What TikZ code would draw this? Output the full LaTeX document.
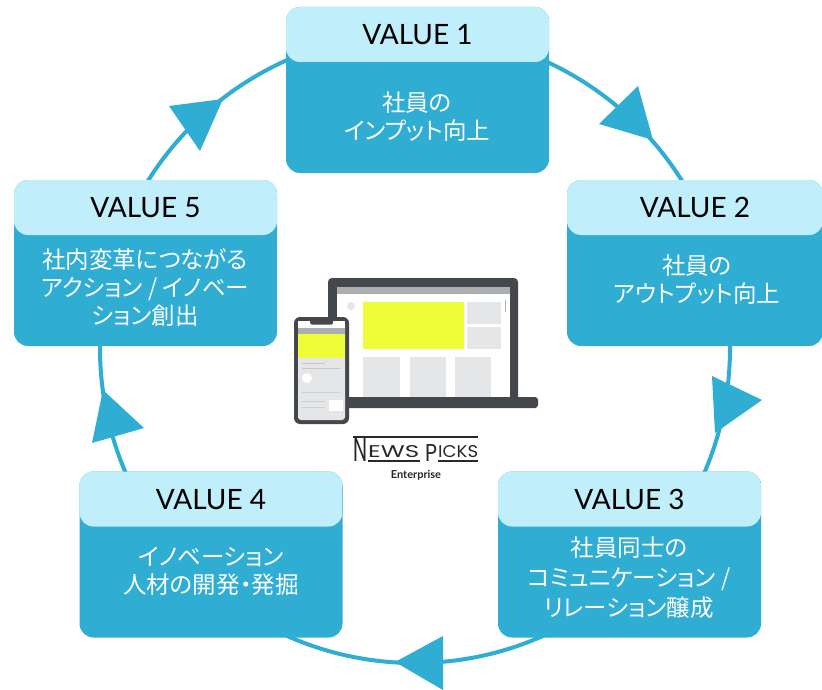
\documentclass[tikz,border=0pt]{standalone}
\usepackage{fontspec}
\setmainfont{Lato}
\newfontfamily\jpfont[RawFeature=+palt]{Noto Sans CJK JP}
\newfontfamily\logofont{Poppins}

\definecolor{vbody}{RGB}{47,173,211}
\definecolor{vhead}{RGB}{193,238,251}
\definecolor{devdark}{RGB}{68,71,75}
\definecolor{devgray}{RGB}{229,230,231}
\definecolor{devbar}{RGB}{172,175,178}
\definecolor{devyellow}{RGB}{238,253,56}
\definecolor{logoink}{RGB}{40,40,40}

\tikzset{
  valuebox/.style={fill=vbody, rounded corners=14pt, minimum width=263pt,
    minimum height=166pt, inner sep=0pt,
    path picture={\fill[vhead] ([yshift=2pt]path picture bounding box.north west)
      rectangle ([yshift=-55pt]path picture bounding box.north east);}},
  valuetitle/.style={font=\fontsize{28}{32}\selectfont, text=black, inner sep=0pt},
  valuetext/.style={font=\jpfont\fontsize{23.5}{28}\selectfont, text=white,
    align=center, inner sep=0pt},
  ring/.style={draw=vbody, line width=4pt},
  ringarrow/.style={fill=vbody},
  logoline/.style={draw=logoink, line width=1.8pt},
}

\begin{document}
\begin{tikzpicture}[x=1pt, y=-1pt]
\useasboundingbox (0,0) rectangle (822,690);
\fill[white] (0,0) rectangle (822,690);

% the cycle ring and its direction marks
\draw[ring] (415,348) circle [radius=315pt];
\fill[ringarrow] (599,124) -- (638,86) -- (653,140) -- cycle;
\fill[ringarrow] (712,376) -- (762,400) -- (715,433) -- cycle;
\fill[ringarrow] (443,636) -- (395,662) -- (443,690) -- cycle;
\fill[ringarrow] (103,390) -- (92,443) -- (144,428) -- cycle;
\fill[ringarrow] (169,106) -- (223,99) -- (200,151) -- cycle;

% value cards
\node[valuebox] (v1) at (417.5,90) {};
\node[valuetitle] (t1) at ([yshift=-28pt]v1.north) {VALUE 1};
\node[valuetext] (d1) at (417,117) {社員の\\インプット向上};

\node[valuebox, minimum width=256pt] (v2) at (695,263) {};
\node[valuetitle] (t2) at ([yshift=-28pt]v2.north) {VALUE 2};
\node[valuetext] (d2) at (697,280) {社員の\\アウトプット向上};

\node[valuebox] (v3) at (629.5,554.5) {};
\node[valuetitle] (t3) at ([yshift=-28pt]v3.north) {VALUE 3};
\node[valuetext, font=\jpfont\fontsize{23.5}{30}\selectfont] (d3) at (629,578)
  {社員同士の\\コミュニケーション /\\リレーション醸成};

\node[valuebox] (v4) at (211,554.5) {};
\node[valuetitle] (t4) at ([yshift=-28pt]v4.north) {VALUE 4};
\node[valuetext] (d4) at (211,571) {イノベーション\\人材の開発・発掘};

\node[valuebox] (v5) at (145.5,263) {};
\node[valuetitle] (t5) at ([yshift=-28pt]v5.north) {VALUE 5};
\node[valuetext] (d5) at (145,288)
  {社内変革につながる\\アクション / イノベー\\ション創出};

% laptop
\fill[devdark, rounded corners=4pt] (328,278) rectangle (518,402);
\fill[devdark, rounded corners=3pt] (338,397) rectangle (538,408);
\fill[white] (337,287) rectangle (510,397);
\fill[devbar] (337,287) rectangle (510,294);
\fill[devgray] (351,306) circle [radius=4pt];
\fill[devyellow] (363,302) rectangle (464,349);
\fill[devgray] (467,302) rectangle (501,324);
\fill[devgray] (467,327) rectangle (501,349);
\fill[devgray] (363,357) rectangle (400,397);
\fill[devgray] (410,357) rectangle (446,397);
\fill[devgray] (455,357) rectangle (491,397);
\draw[devbar, line width=1pt] (505,300) -- (505,312);

% phone
\fill[devdark, rounded corners=6pt] (294,317) rectangle (349,424);
\fill[devgray, rounded corners=3pt] (298,321) rectangle (345,420);
\fill[white] (298,321) rectangle (345,328);
\fill[devdark, rounded corners=1.5pt] (310,320) rectangle (333,324.5);
\fill[devbar] (298,328) rectangle (345,334);
\fill[devyellow] (298,334) rectangle (345,358);
\draw[devbar!70, line width=0.8pt] (302,363) -- (325,363);
\draw[devbar!70, line width=0.8pt] (302,368) -- (340,368);
\fill[white] (307,378) circle [radius=5pt];
\draw[devbar!60, line width=0.8pt] (302,392) -- (340,392);
\draw[devbar!60, line width=0.8pt] (302,401) -- (325,401);
\draw[devbar!60, line width=0.8pt] (302,407) -- (325,407);
\fill[white] (329,400) rectangle (343,411);

% NewsPicks Enterprise logo
\draw[logoline] (353,437) -- (478,437);
\draw[logoline] (368,461) -- (420,461);
\draw[logoline] (438,461) -- (478,461);
\node[inner sep=0pt, text=logoink, anchor=south west] (lgn) at (353,462)
  {\resizebox{14pt}{24pt}{\logofont N}};
\node[inner sep=0pt, text=logoink, anchor=south west] (lgews) at (368,457.5)
  {\resizebox{51pt}{12pt}{\logofont EWS}};
\node[inner sep=0pt, text=logoink, anchor=south west] (lgp) at (425,462)
  {\resizebox{12pt}{17pt}{\logofont P}};
\node[inner sep=0pt, text=logoink, anchor=south west] (lgicks) at (438,457.5)
  {\resizebox{40pt}{12pt}{\logofont ICKS}};
\node[inner sep=0pt, text=logoink, font=\bfseries\fontsize{11}{12}\selectfont]
  (lgent) at (416,475) {Enterprise};
\end{tikzpicture}
\end{document}
